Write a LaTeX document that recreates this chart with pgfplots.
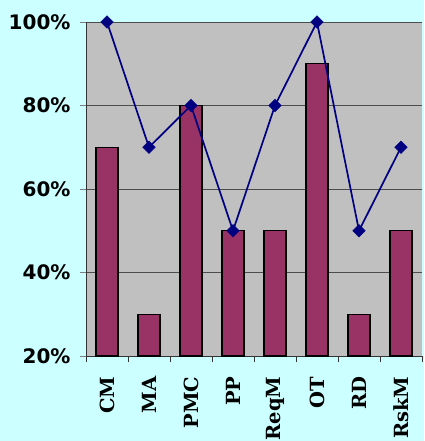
\documentclass[border=0pt]{standalone}
\usepackage{fontspec}
\setmainfont{DejaVu Serif}
\newfontfamily\labelsans{DejaVu Sans}
\usepackage{pgfplots}
\pgfplotsset{compat=1.18}
\definecolor{bgcyan}{HTML}{CCFFFF}
\definecolor{plotgray}{HTML}{C0C0C0}
\definecolor{barmaroon}{HTML}{993366}
\definecolor{linenavy}{HTML}{000080}
\begin{document}
\begin{tikzpicture}[x=1pt,y=1pt]
\fill[bgcyan] (-86,-85) rectangle (338,356);
\begin{axis}[
  at={(0,0)}, anchor=south west,
  scale only axis, width=336pt, height=334pt,
  xmin=-0.5, xmax=7.5, ymin=20, ymax=100,
  axis background/.style={fill=plotgray},
  axis lines=left, axis line style={-, draw=black!80, line width=0.9pt},
  clip=false,
  xtick={0,...,7},
  xticklabels={CM,MA,PMC,PP,ReqM,OT,RD,RskM},
  major x tick style={draw=none},
  minor xtick={-0.5,0.5,...,7.5},
  minor x tick style={draw=black!80, line width=0.7pt},
  minor tick length=6pt,
  xticklabel style={rotate=90, anchor=east, font=\bfseries\fontsize{19.5}{19.5}\selectfont, xshift=-11pt},
  ytick={20,40,...,100},
  yticklabels={20\%,40\%,60\%,80\%,100\%},
  yticklabel style={font=\labelsans\bfseries\fontsize{20}{20}\selectfont, xshift=-6pt},
  major tick length=6pt,
  tick align=outside,
  ymajorgrids, grid style={draw=black!70, line width=0.7pt},
]
\addplot[ybar, bar width=0.52, fill=barmaroon, draw=black, line width=1.3pt]
  coordinates {(0,70) (1,30) (2,80) (3,50) (4,50) (5,90) (6,30) (7,50)};
\addplot[linenavy, line width=1.7pt, mark=square*, mark size=4.4pt,
  mark options={fill=linenavy, draw=linenavy, line width=0.5pt, rotate=45}]
  coordinates {(0,100) (1,70) (2,80) (3,50) (4,80) (5,100) (6,50) (7,70)};
\end{axis}
\pgfresetboundingbox
\useasboundingbox (-86,-85) rectangle (338,356);
\end{tikzpicture}
\end{document}
